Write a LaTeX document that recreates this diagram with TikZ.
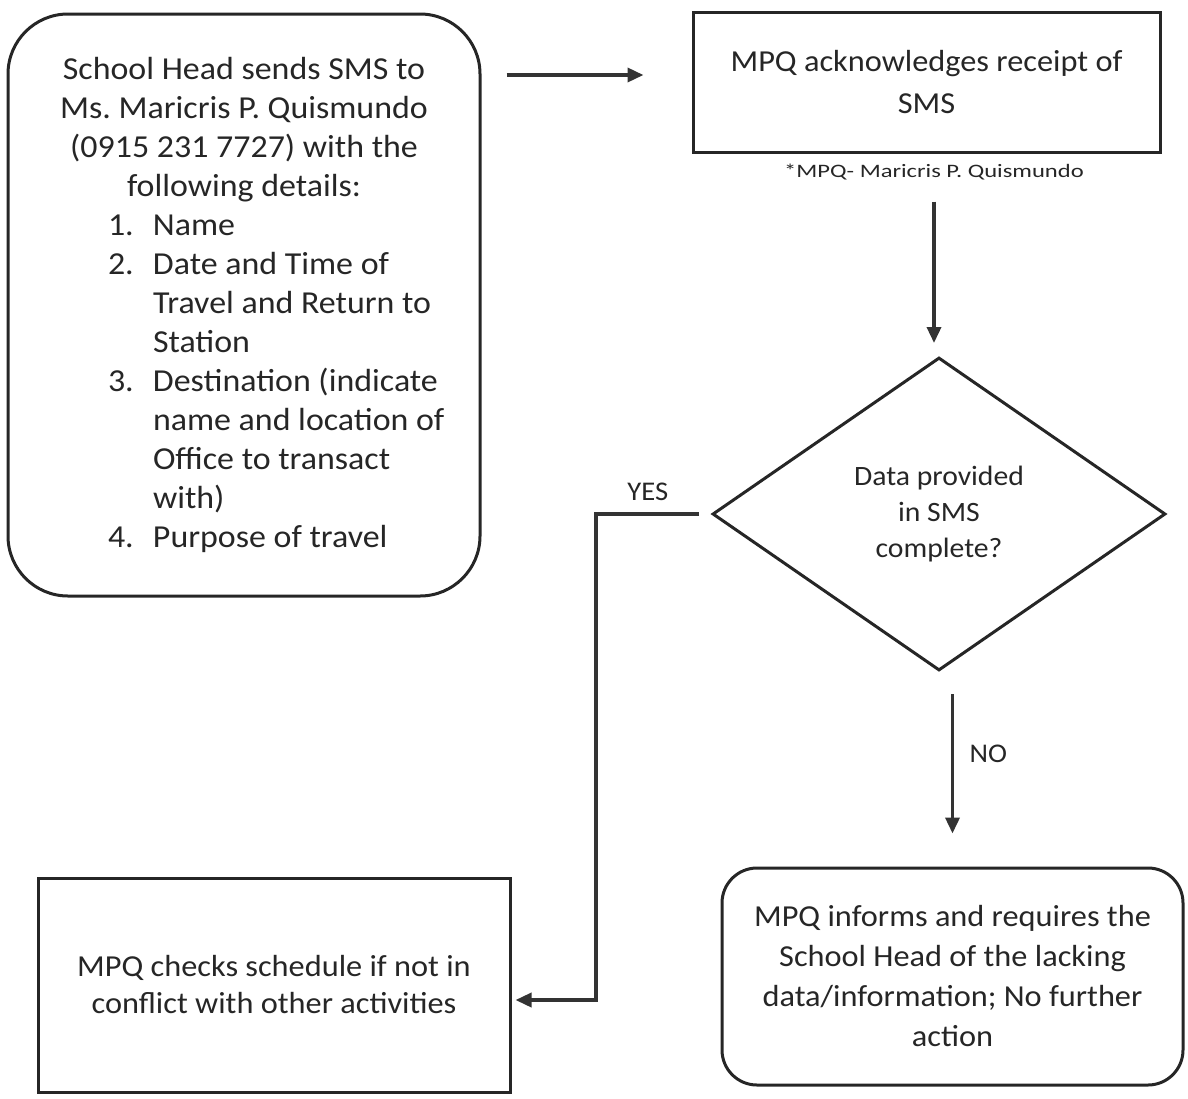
\documentclass[tikz,border=0pt]{standalone}
\usepackage{fontspec}
\usepackage{graphicx}
\setmainfont{Carlito}[FakeStretch=1.06]
\usetikzlibrary{shapes.geometric,arrows.meta,calc}
\begin{document}
\begin{tikzpicture}[x=1pt,y=-1pt,
  box/.style={draw=black!85, line width=3pt, inner sep=0pt, text=black!85,
    font=\fontsize{30.5}{39}\selectfont, align=center},
  rbox/.style={box, rounded corners=#1},
  arr/.style={draw=black!80, line width=3.5pt, -{Triangle[length=16pt,width=14pt]}},
  lbl/.style={text=black!85, font=\fontsize{27}{30}\selectfont}]
\useasboundingbox (0,0) rectangle (1188,1098);

\node[rbox=60pt, minimum width=472pt, minimum height=582pt, font=\fontsize{32}{39}\selectfont] (b1) at (244,305)
  {\parbox{390pt}{\centering School Head sends SMS to\\ Ms.\ Maricris P. Quismundo\\ (0915 231 7727) with the\\ following details:\par
   \raggedright
   \mbox{\hspace*{59pt}\makebox[45pt][l]{1.}Name}\\
   \mbox{\hspace*{59pt}\makebox[45pt][l]{2.}Date and Time of}\\
   \mbox{\hspace*{104pt}Travel and Return to}\\
   \mbox{\hspace*{104pt}Station}\\
   \mbox{\hspace*{59pt}\makebox[45pt][l]{3.}Destination (indicate}\\
   \mbox{\hspace*{104pt}name and location of}\\
   \mbox{\hspace*{104pt}Office to transact}\\
   \mbox{\hspace*{104pt}with)}\\
   \mbox{\hspace*{59pt}\makebox[45pt][l]{4.}Purpose of travel}}};

\node[box, minimum width=467pt, minimum height=140pt, font=\fontsize{30.5}{42}\selectfont] (b2) at (926.5,82)
  {MPQ acknowledges receipt of\\ SMS};

\node[lbl, font=\fontsize{19}{20}\selectfont] (fn) at (934,172) {\scalebox{1.22}[1]{*MPQ- Maricris P. Quismundo}};

\node[box, shape=diamond, minimum width=453pt, minimum height=313pt,
  font=\fontsize{28}{36}\selectfont] (d) at (939,514)
  {Data provided\\ in SMS\\ complete?};

\node[box, minimum width=472pt, minimum height=214pt, font=\fontsize{30.5}{37}\selectfont] (b3) at (274,985)
  {MPQ checks schedule if not in\\ conflict with other activities};

\node[rbox=35pt, minimum width=461pt, minimum height=217pt, font=\fontsize{30.5}{40}\selectfont] (b4) at (952.5,976.5)
  {MPQ informs and requires the\\ School Head of the lacking\\ data/information; No further\\ action};

% connectors
\draw[arr, shorten <=25pt, shorten >=48pt] ([yshift=7pt]b1.east |- b2.west) -- ([yshift=7pt]b2.west);
\draw[arr, shorten <=48pt, shorten >=13pt] ([xshift=-5pt]b2.south -| d.north) -- ([xshift=-5pt]d.north);
\draw[arr, shorten <=22pt, shorten >=33pt] (b4.north |- d.south) -- node[lbl, pos=0.42, right=12pt] {NO} (b4.north);
\draw[arr, shorten <=12pt, shorten >=4pt] (d.west) -- node[lbl, above=8pt, pos=0.55] {YES} ++(-115,0) |- ([yshift=-15pt]b3.east);
\end{tikzpicture}
\end{document}
